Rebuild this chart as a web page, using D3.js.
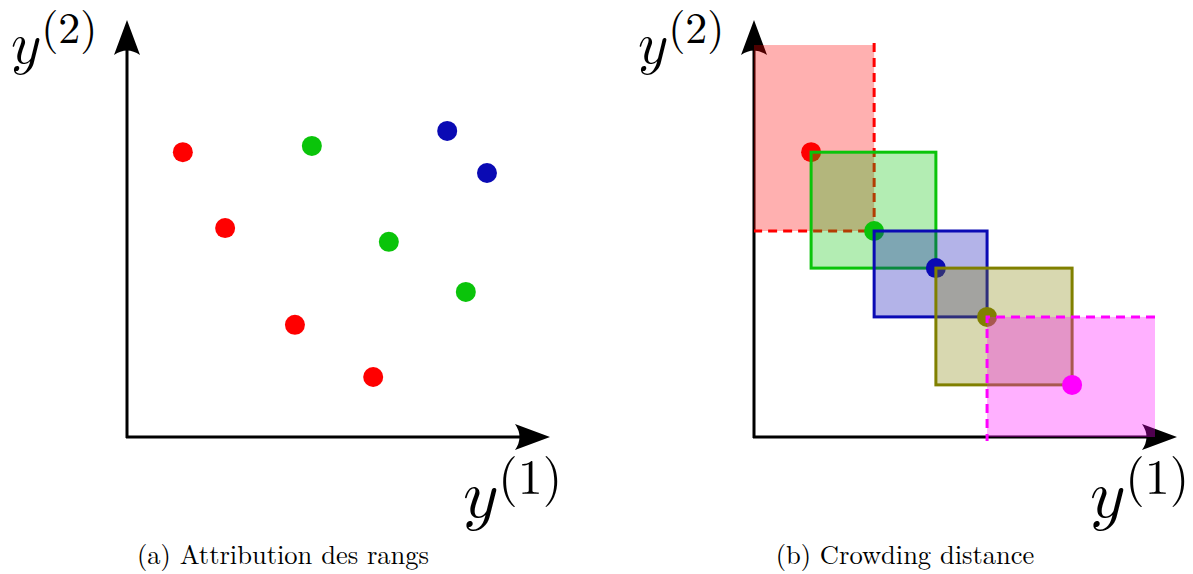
<!DOCTYPE html>
<html>
<head>
<meta charset="utf-8">
<script src="https://cdn.jsdelivr.net/npm/d3@7"></script>
<style>
  body { margin: 0; background: #fff; }
  svg { display: block; }
</style>
</head>
<body>
<div id="chart"></div>
<script>
// points of panel (a), grouped by front (rank)
const rankA = [
  {name: "red",   pts: [[13.2, 68.3], [23.2, 50.1], [39.7, 26.9], [58.2, 14.4]]},
  {name: "green", pts: [[43.7, 69.8], [61.9, 46.8], [80.1, 34.8]]},
  {name: "blue",  pts: [[75.7, 73.4], [85.1, 63.3]]}
]

// points of panel (b), one front sorted on y(1)
const frontB = ["red", "green", "blue", "olive", "magenta"]
const frontBx = [13.5, 28.4, 43.0, 55.1, 75.2]
const frontBy = [68.3, 49.4, 40.5, 28.8, 12.5]
// bounds used for the two extreme points
const boundX = 94.8
const boundY = 94.0

const captions = ["(a) Attribution des rangs", "(b) Crowding distance"]

const colors = {
  red: "#ff0000", green: "#0ac40a", blue: "#0a0ab4",
  olive: "#808000", magenta: "#ff00ff"
}

const W = 1193, H = 574
const serif = "'Latin Modern Roman', 'Liberation Serif', serif"
const mathFont = "'Latin Modern Math', 'Latin Modern Roman', serif"

const svg = d3.select("#chart").append("svg")
  .attr("width", W)
  .attr("height", H)

// same scales for both panels, each panel is translated to its origin
const x = d3.scaleLinear().domain([0, 100]).range([0, 423])
const y = d3.scaleLinear().domain([0, 100]).range([0, -417])

// latex-like arrow head, tip at 0,0 pointing right
const arrowHead = "M0,0 L-35,-13 Q-26,0 -35,13 Z"

function drawAxes(g) {
  g.append("line")
    .attr("x1", x(0) - 1).attr("y1", 0)
    .attr("x2", x(100) - 20).attr("y2", 0)
    .attr("stroke", "#000").attr("stroke-width", 3)
  g.append("line")
    .attr("x1", 0).attr("y1", y(0) + 1)
    .attr("x2", 0).attr("y2", y(100) + 20)
    .attr("stroke", "#000").attr("stroke-width", 3)
  g.append("path")
    .attr("d", arrowHead)
    .attr("transform", "translate(" + x(100) + ",0)")
  g.append("path")
    .attr("d", arrowHead)
    .attr("transform", "translate(0," + y(100) + ") rotate(-90)")
}

function axisLabel(g, px, py, sup, size, supSize) {
  const t = g.append("text")
    .attr("x", px).attr("y", py)
    .attr("font-family", mathFont)
    .attr("font-size", size)
  t.append("tspan").text("\u{1D466}")
  t.append("tspan").text("(" + sup + ")")
    .attr("font-family", serif)
    .attr("dx", size * 0.03)
    .attr("dy", -size * 0.34)
    .attr("font-size", supSize)
}

function labels(g) {
  axisLabel(g, -116, y(100) + 43, 2, 58, 44)
  axisLabel(g, x(100) - 87, 80, 1, 68, 50)
}

// ---------------- panel (a)
const gA = svg.append("g").attr("transform", "translate(127,437)")
drawAxes(gA)
labels(gA)

rankA.forEach(function(r) {
  gA.selectAll("circle." + r.name)
    .data(r.pts)
    .join("circle")
    .attr("class", r.name)
    .attr("cx", d => x(d[0]))
    .attr("cy", d => y(d[1]))
    .attr("r", 10)
    .style("fill", colors[r.name])
})

// ---------------- panel (b)
const gB = svg.append("g").attr("transform", "translate(754,437)")
drawAxes(gB)
labels(gB)

const n = frontB.length
frontB.forEach(function(c, i) {
  const x0 = i == 0 ? 0 : frontBx[i - 1]
  const x1 = i == n - 1 ? boundX : frontBx[i + 1]
  const y0 = i == n - 1 ? 0 : frontBy[i + 1]
  const y1 = i == 0 ? boundY : frontBy[i - 1]
  const col = colors[c]
  const extreme = (i == 0 || i == n - 1)

  gB.append("rect")
    .attr("x", x(x0))
    .attr("y", y(y1))
    .attr("width", x(x1) - x(x0))
    .attr("height", y(y0) - y(y1))
    .style("fill", col)
    .style("fill-opacity", 0.31)
    .style("stroke", extreme ? "none" : col)
    .style("stroke-width", 3)

  if (i == 0) {
    // dashed right and bottom edges
    gB.append("path")
      .attr("d", "M" + x(x1) + "," + (y(y1) - 2) + " L" + x(x1) + "," + y(y0) + " L" + x(x0) + "," + y(y0))
      .style("fill", "none").style("stroke", col)
      .style("stroke-width", 3).style("stroke-dasharray", "9,6")
  }
  if (i == n - 1) {
    // dashed top and left edges
    gB.append("path")
      .attr("d", "M" + x(x1) + "," + y(y1) + " L" + x(x0) + "," + y(y1) + " L" + x(x0) + "," + (y(y0) + 4))
      .style("fill", "none").style("stroke", col)
      .style("stroke-width", 3).style("stroke-dasharray", "9,6")
  }

  gB.append("circle")
    .attr("cx", x(frontBx[i]))
    .attr("cy", y(frontBy[i]))
    .attr("r", 10)
    .style("fill", col)
})

// ---------------- captions
svg.selectAll("text.caption")
  .data(captions)
  .join("text")
  .attr("class", "caption")
  .attr("x", (d, i) => i == 0 ? 283 : 905)
  .attr("y", 564)
  .attr("text-anchor", "middle")
  .attr("font-family", serif)
  .attr("font-size", 26.5)
  .text(d => d)
</script>
</body>
</html>
